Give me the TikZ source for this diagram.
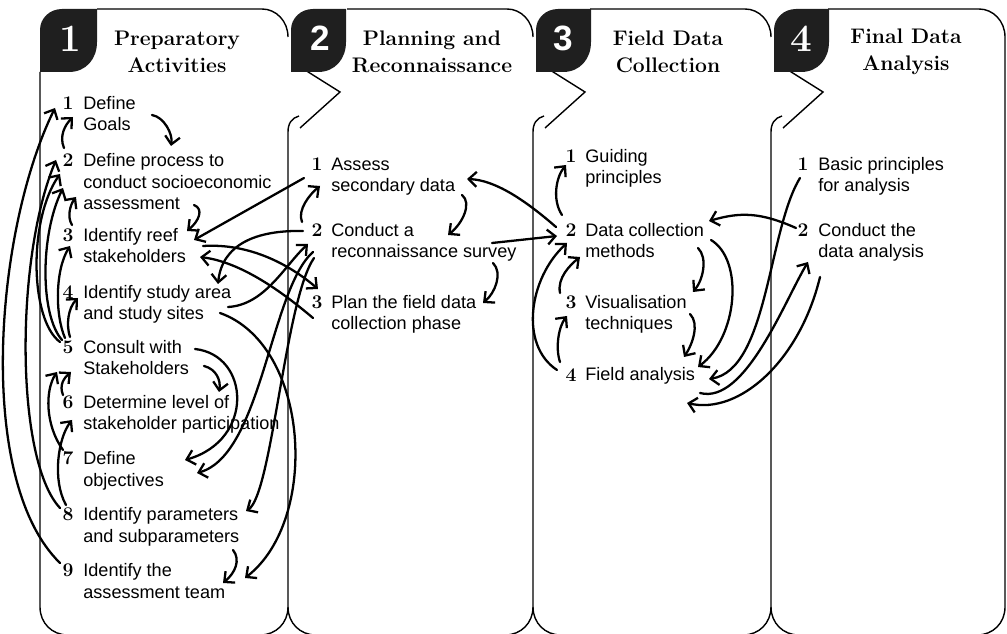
\documentclass[tikz,border=0pt]{standalone}
\usepackage{fontspec}
\setsansfont{Liberation Sans}
\usetikzlibrary{arrows.meta}

\tikzset{
  panel/.style={line width=0.8pt},
  tabshape/.style={fill=black!88},
  tabnum/.style={text=white,font=\fontsize{22}{22}\selectfont\bfseries,inner sep=0pt},
  tabnumsf/.style={text=white,font=\sffamily\fontsize{20}{20}\selectfont\bfseries,inner sep=0pt},
  titletext/.style={font=\fontsize{12}{15.3}\selectfont\bfseries,align=center,inner sep=0pt},
  stepnum/.style={font=\fontsize{11}{13}\selectfont\bfseries,inner sep=0pt},
  steptext/.style={font=\sffamily\fontsize{10.3}{12.4}\selectfont,align=left,inner sep=0pt,anchor=base west},
  arr/.style={-{Straight Barb[length=4.5pt,width=8.5pt]},line width=1.3pt,line cap=round}
}

\begin{document}
\begin{tikzpicture}[x=0.02cm,y=-0.02cm]
\useasboundingbox (0,0) rectangle (1007,634);
\clip (0,0) rectangle (1007,634);

% panel outlines
\draw[panel] (97,9) -- (262,9) .. controls (276,9) and (288,21) .. (288,37);
\draw[panel] (347,9) -- (507,9) .. controls (521,9) and (533,21) .. (533,37);
\draw[panel] (590,9) -- (745,9) .. controls (759,9) and (771,21) .. (771,37);
\draw[panel] (828,9) -- (979,9) .. controls (993,9) and (1005,21) .. (1005,37) -- (1005,607)
  .. controls (1005,623) and (993,635) .. (977,635);
\draw[panel] (40,72) -- (40,607) .. controls (40,623) and (52,635) .. (68,635) -- (977,635);
\foreach \x in {288,533,771}{
  \draw[panel] (\x+11,116) .. controls (\x+4,118) and (\x,123) .. (\x,132) -- (\x,607)
    .. controls (\x,623) and (\x-12,635) .. (\x-28,635);
  \draw[panel] (\x,607) .. controls (\x,623) and (\x+12,635) .. (\x+28,635);
  \draw[panel] (\x+17,70) -- (\x+52,92) -- (\x+12,128);
  \fill[tabshape] (\x+3,72) -- (\x+3,30) .. controls (\x+3,18) and (\x+13,9) .. (\x+25,9) -- (\x+58,9)
    -- (\x+58,42) .. controls (\x+58,59) and (\x+47,72) .. (\x+30,72) -- cycle;
}
\fill[tabshape] (40,72) -- (40,30) .. controls (40,18) and (50,9) .. (62,9) -- (97,9)
  -- (97,42) .. controls (97,59) and (86,72) .. (69,72) -- cycle;

% tab numbers and titles
\node[tabnum] (k1) at (70,39) {1};
\node[tabnumsf] (k2) at (320,38) {2};
\node[tabnumsf] (k3) at (563,38) {3};
\node[tabnum] (k4) at (801,39) {4};
\node[titletext] (t1) at (177,52) {Preparatory\\Activities};
\node[titletext] (t2) at (432,52) {Planning and\\Reconnaissance};
\node[titletext] (t3) at (668,52) {Field Data\\Collection};
\node[titletext] (t4) at (906,52) {Final Data\\Analysis};

% panel 1
\node[stepnum] (n11) at (68,103) {1};
\node[stepnum] (n12) at (68,160) {2};
\node[stepnum] (n13) at (68,235) {3};
\node[stepnum] (n14) at (68,292) {4};
\node[stepnum] (n15) at (68,347) {5};
\node[stepnum] (n16) at (68,402) {6};
\node[stepnum] (n17) at (68,458) {7};
\node[stepnum] (n18) at (68,514) {8};
\node[stepnum] (n19) at (68,570) {9};
\node[steptext] (s11) at (83,131) {Define\\Goals};
\node[steptext] (s12) at (83,210) {Define process to\\conduct socioeconomic\\assessment};
\node[steptext] (s13) at (83,263) {Identify reef\\stakeholders};
\node[steptext] (s14) at (83,320) {Identify study area\\and study sites};
\node[steptext] (s15) at (83,375) {Consult with\\Stakeholders};
\node[steptext] (s16) at (83,430) {Determine level of\\stakeholder participation};
\node[steptext] (s17) at (83,486) {Define\\objectives};
\node[steptext] (s18) at (83,542) {Identify parameters\\and subparameters};
\node[steptext] (s19) at (83,598) {Identify the\\assessment team};

% panel 2
\node[stepnum] (n21) at (317,164) {1};
\node[stepnum] (n22) at (317,230) {2};
\node[stepnum] (n23) at (317,302) {3};
\node[steptext] (s21) at (331,192) {Assess\\secondary data};
\node[steptext] (s22) at (331,258) {Conduct a\\reconnaissance survey};
\node[steptext] (s23) at (331,330) {Plan the field data\\collection phase};

% panel 3
\node[stepnum] (n31) at (571,156) {1};
\node[stepnum] (n32) at (571,230) {2};
\node[stepnum] (n33) at (571,302) {3};
\node[stepnum] (n34) at (571,375) {4};
\node[steptext] (s31) at (585,184) {Guiding\\principles};
\node[steptext] (s32) at (585,258) {Data collection\\methods};
\node[steptext] (s33) at (585,330) {Visualisation\\techniques};
\node[steptext] (s34) at (585,381) {Field analysis};

% panel 4
\node[stepnum] (n41) at (803,164) {1};
\node[stepnum] (n42) at (803,230) {2};
\node[steptext] (s41) at (818,192) {Basic principles\\for analysis};
\node[steptext] (s42) at (818,258) {Conduct the\\data analysis};

% panel 1, links back on the left
\draw[arr] ([shift={(-4,-12)}]n12.center) .. controls +(-5,-12) and +(-8,8) .. ([shift={(5,14)}]n11.center);
\draw[arr] ([shift={(-8,-7)}]n19.center) .. controls +(-85,-83) and +(-60,122) .. ([shift={(-13,5)}]n11.center);
\draw[arr] ([shift={(-8,-6)}]n18.center) .. controls +(-45,-48) and +(-41,98) .. ([shift={(-12,0)}]n12.center);
\draw[arr] ([shift={(-8,-5)}]n15.center) .. controls +(-30,-22) and +(-32,46) .. ([shift={(-8,14)}]n12.center);
\draw[arr] ([shift={(-6,-7)}]n15.center) .. controls +(-22,-25) and +(-23,47) .. ([shift={(-5,28)}]n12.center);
\draw[arr] ([shift={(-3,-9)}]n15.center) .. controls +(-10,-23) and +(-15,24) .. ([shift={(2,11)}]n13.center);
\draw[arr] ([shift={(2,-10)}]n15.center) .. controls +(-4,-12) and +(-10,10) .. ([shift={(10,6)}]n14.center);
\draw[arr] ([shift={(4,-10)}]n13.center) .. controls +(-5,-8) and +(-6,8) .. ([shift={(8,37)}]n12.center);
\draw[arr] ([shift={(-5,-7)}]n16.center) .. controls +(-4,-10) and +(-7,6) .. ([shift={(3,25)}]n15.center);
\draw[arr] ([shift={(-5,-8)}]n17.center) .. controls +(-18,-25) and +(-12,18) .. ([shift={(-11,25)}]n15.center);
\draw[arr] ([shift={(-2,-9)}]n18.center) .. controls +(-14,-25) and +(-14,18) .. ([shift={(4,18)}]n16.center);

% panel 1, links forward on the right
\draw[arr] ([shift={(84,12)}]n11.center) .. controls +(12,2) and +(2,-12) .. ([shift={(103,-14)}]n12.center);
\draw[arr] ([shift={(126,45)}]n12.center) .. controls +(10,4) and +(12,-10) .. ([shift={(119,-4)}]n13.center);
\draw[arr] ([shift={(136,19)}]n15.center) .. controls +(12,3) and +(2,-12) .. ([shift={(151,-10)}]n16.center);
\draw[arr] ([shift={(165,36)}]n18.center) .. controls +(8,10) and +(12,-10) .. ([shift={(155,13)}]n19.center);
\draw[arr] ([shift={(127,2)}]n15.center) .. controls +(55,6) and +(70,-20) .. ([shift={(117,2)}]n17.center);
\draw[arr] ([shift={(152,21)}]n14.center) .. controls +(90,32) and +(75,-58) .. ([shift={(177,8)}]n19.center);

% between panels 1 and 2
\draw[arr] ([shift={(-14,1)}]n22.center) .. controls +(-48,-1) and +(4,-39) .. ([shift={(150,-8)}]n14.center);
\draw[arr] ([shift={(160,15)}]n14.center) .. controls +(37,-2) and +(-23,21) .. ([shift={(-9,14)}]n22.center);
\draw[arr] ([shift={(-13,14)}]n21.center) -- ([shift={(126,5)}]n13.center);
\draw[arr] ([shift={(135,11)}]n13.center) .. controls +(47,-3) and +(-28,-24) .. ([shift={(1,-13)}]n23.center);
\draw[arr] ([shift={(-4,16)}]n23.center) .. controls +(-33,-28) and +(40,5) .. ([shift={(132,22)}]n13.center);
\draw[arr] ([shift={(-4,22)}]n22.center) .. controls +(-43,38) and +(65,-18) .. ([shift={(129,15)}]n17.center);
\draw[arr] ([shift={(-3,28)}]n22.center) .. controls +(-29,42) and +(26,-16) .. ([shift={(178,-3)}]n18.center);

% panel 2
\draw[arr] ([shift={(145,31)}]n21.center) .. controls +(10,8) and +(15,-12) .. ([shift={(131,5)}]n22.center);
\draw[arr] ([shift={(-15,-8)}]n22.center) .. controls +(-5,-12) and +(-10,8) .. ([shift={(3,22)}]n21.center);
\draw[arr] ([shift={(176,33)}]n22.center) .. controls +(10,10) and +(12,-10) .. ([shift={(166,1)}]n23.center);

% between panels 2 and 3
\draw[arr] ([shift={(-15,-3)}]n32.center) .. controls +(-31,-27) and +(28,1) .. ([shift={(150,15)}]n21.center);
\draw[arr] ([shift={(175,13)}]n22.center) -- ([shift={(-14,6)}]n32.center);

% panel 3
\draw[arr] ([shift={(-9,-15)}]n32.center) .. controls +(-10,-15) and +(-10,12) .. ([shift={(-5,9)}]n31.center);
\draw[arr] ([shift={(-11,-9)}]n33.center) .. controls +(-3,-15) and +(-10,8) .. ([shift={(9,27)}]n32.center);
\draw[arr] ([shift={(-14,-5)}]n34.center) .. controls +(-38,-25) and +(-38,35) .. ([shift={(-4,13)}]n32.center);
\draw[arr] ([shift={(-11,-13)}]n34.center) .. controls +(-5,-15) and +(-8,10) .. ([shift={(-4,14)}]n33.center);
\draw[arr] ([shift={(127,18)}]n32.center) .. controls +(10,10) and +(10,-12) .. ([shift={(122,-10)}]n33.center);
\draw[arr] ([shift={(119,12)}]n33.center) .. controls +(10,10) and +(8,-12) .. ([shift={(113,-18)}]n34.center);
\draw[arr] ([shift={(140,10)}]n32.center) .. controls +(33,20) and +(40,-30) .. ([shift={(127,-8)}]n34.center);

% between panels 3 and 4
\draw[arr] ([shift={(-3,14)}]n41.center) .. controls +(-32,52) and +(59,-9) .. ([shift={(138,4)}]n34.center);
\draw[arr] ([shift={(-7,-2)}]n42.center) .. controls +(-36,-16) and +(31,-9) .. ([shift={(138,-9)}]n32.center);
\draw[arr] ([shift={(129,18)}]n34.center) .. controls +(45,12) and +(-23,38) .. ([shift={(5,32)}]n42.center);
\draw[arr] ([shift={(17,47)}]n42.center) .. controls +(-20,83) and +(53,12) .. ([shift={(116,28)}]n34.center);

\end{tikzpicture}
\end{document}
